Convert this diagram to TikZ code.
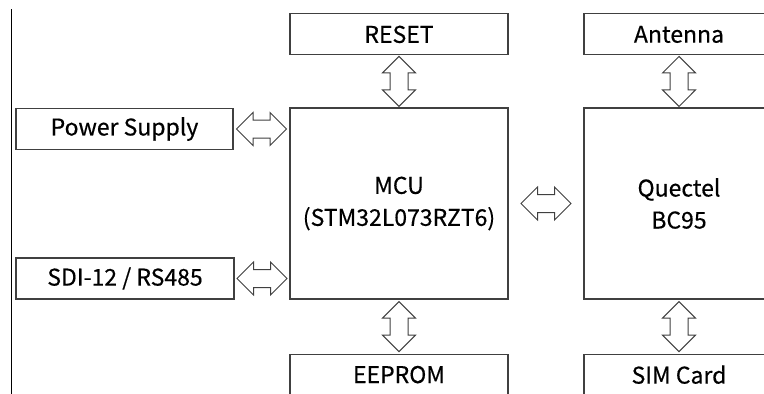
\documentclass[tikz,border=0pt]{standalone}
\usepackage{fontspec}
\newfontfamily\cjk[FakeBold=0.4]{Noto Sans CJK SC}
\usepackage{tikz}
\usetikzlibrary{shapes.arrows,positioning,calc}
\tikzset{
  box/.style={rectangle, draw=black!75, line width=1.1pt, fill=white,
    minimum height=41pt, minimum width=218pt, inner sep=0pt, align=center,
    font=\cjk\fontsize{23}{32}\selectfont},
  bigbox/.style={box, minimum height=191pt},
  dblarr/.style={double arrow, draw=black!75, line width=1pt, fill=white,
    minimum height=50pt, inner xsep=0pt, inner ysep=8.5pt,
    double arrow head extend=7.5pt},
}
\begin{document}
\begin{tikzpicture}[x=1pt, y=-1pt]
  \useasboundingbox (0,0) rectangle (764,394);
  \clip (0,0) rectangle (764,394);
  % left rule
  \coordinate (rtop) at (11,9);
  \coordinate (rbot) at (11,394);
  \draw[black, line width=1pt] (rtop) -- (rbot);
  % microcontroller column
  \node[bigbox] (mcu) at (399,203.5) {MCU\\(STM32L073RZT6)};
  \node[box, above=52pt of mcu] (reset) {RESET};
  \node[box, below=54pt of mcu] (eeprom) {EEPROM};
  % peripherals on the left
  \node[box, minimum width=217pt] (power) at (124.5,129) {Power Supply};
  \node[box] (sdi) at (125,278.5) {SDI-12 / RS485};
  % radio module column
  \node[bigbox, minimum width=190pt] (bc95) at (679,203.5) {Quectel\\BC95};
  \node[box, minimum width=190pt, above=52pt of bc95] (ant) {Antenna};
  \node[box, minimum width=190pt, below=54pt of bc95] (sim) {SIM Card};

  % double arrows between the blocks
  \node[dblarr] (a-pwr) at ($(power.east)!0.5!(power.east -| mcu.west)$) {};
  \node[dblarr] (a-sdi) at ($(sdi.east)!0.5!(sdi.east -| mcu.west)$) {};
  \node[dblarr] (a-rad) at ($(mcu.east)!0.5!(bc95.west)$) {};
  \node[dblarr, rotate=90] (a-rst) at ($(reset.south)!0.5!(mcu.north)$) {};
  \node[dblarr, rotate=90] (a-eep) at ($(mcu.south)!0.5!(eeprom.north)$) {};
  \node[dblarr, rotate=90] (a-ant) at ($(ant.south)!0.5!(bc95.north)$) {};
  \node[dblarr, rotate=90] (a-sim) at ($(bc95.south)!0.5!(sim.north)$) {};
\end{tikzpicture}
\end{document}
